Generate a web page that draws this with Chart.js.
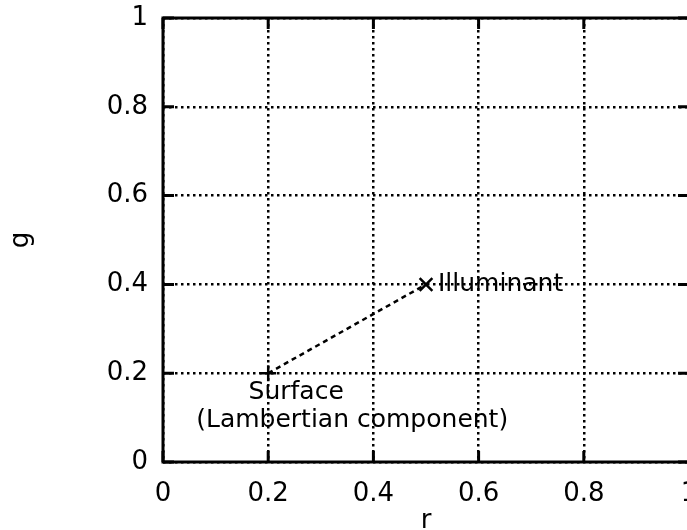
<!DOCTYPE html>
<html>
<head>
<meta charset="utf-8">
<script src="https://cdn.jsdelivr.net/npm/chart.js@4"></script>
<style>
  html, body { margin: 0; padding: 0; background: #fff; overflow: hidden; }
  #wrap { width: 740px; height: 530px; }
</style>
</head>
<body>
<div id="wrap"><canvas id="chart" width="740" height="530"></canvas></div>
<script>
// chart values
const rValues = [0.2, 0.5];
const gValues = [0.2, 0.4];
const markers = ['cross', 'crossRot'];
const tickValues = [0, 0.2, 0.4, 0.6, 0.8, 1];
const noteTexts = ['Illuminant', 'Surface', '(Lambertian component)'];
const noteR = [0.5, 0.2, 0.2];
const noteG = [0.4, 0.2, 0.2];

const FONT = 'DejaVu Sans';
const points = rValues.map((r, i) => ({ x: r, y: gValues[i] }));

// frame + inner ticks + notes
const framePlugin = {
  id: 'frame',
  afterDatasetsDraw(chart) {
    const { ctx, chartArea: a, scales } = chart;
    ctx.save();
    ctx.strokeStyle = '#000';
    ctx.lineWidth = 3;
    ctx.strokeRect(a.left, a.top, a.right - a.left, a.bottom - a.top);
    ctx.beginPath();
    tickValues.forEach(v => {
      const x = scales.x.getPixelForValue(v);
      ctx.moveTo(x, a.bottom); ctx.lineTo(x, a.bottom - 11);
      ctx.moveTo(x, a.top); ctx.lineTo(x, a.top + 11);
      const y = scales.y.getPixelForValue(v);
      ctx.moveTo(a.left, y); ctx.lineTo(a.left + 11, y);
      ctx.moveTo(a.right, y); ctx.lineTo(a.right - 11, y);
    });
    ctx.stroke();

    ctx.fillStyle = '#000';
    ctx.font = '25px "' + FONT + '"';
    ctx.textBaseline = 'middle';
    const offs = [[12, 0, 'left'], [28, 19, 'center'], [84, 47, 'center']];
    noteTexts.forEach((t, i) => {
      const x = scales.x.getPixelForValue(noteR[i]);
      const y = scales.y.getPixelForValue(noteG[i]);
      ctx.textAlign = offs[i][2];
      ctx.fillText(t, x + offs[i][0], y + offs[i][1]);
    });
    ctx.restore();
  }
};

const gridOpts = { color: '#000', lineWidth: 2.5, drawTicks: false };

new Chart(document.getElementById('chart'), {
  type: 'scatter',
  data: {
    datasets: [{
      data: points,
      showLine: true,
      borderColor: '#000',
      borderWidth: 2.5,
      borderDash: [5, 4],
      pointStyle: markers,
      pointRadius: [8, 9],
      pointBorderColor: '#000',
      pointBorderWidth: 2.5,
      pointBackgroundColor: '#000'
    }]
  },
  options: {
    responsive: false,
    animation: false,
    devicePixelRatio: 1,
    layout: { padding: { top: 18, right: 51, left: 0, bottom: 0 } },
    plugins: { legend: { display: false }, tooltip: { enabled: false } },
    scales: {
      x: {
        type: 'linear',
        min: 0, max: 1,
        afterBuildTicks: s => { s.ticks = tickValues.map(v => ({ value: v })); },
        afterFit: s => { s.height = 68; s.paddingLeft = 0; s.paddingRight = 0; },
        grid: Object.assign({}, gridOpts),
        border: { display: false, dash: [2.5, 3.5] },
        ticks: {
          color: '#000',
          padding: 17,
          maxRotation: 0,
          font: { family: FONT, size: 26 },
          callback: v => String(v)
        },
        title: {
          display: true, text: 'r', color: '#000',
          font: { family: FONT, size: 26, lineHeight: 1 },
          padding: { top: 0, bottom: -4 }
        }
      },
      y: {
        type: 'linear',
        min: 0, max: 1,
        afterBuildTicks: s => { s.ticks = tickValues.map(v => ({ value: v })); },
        afterFit: s => { s.width = 163; s.paddingTop = 0; s.paddingBottom = 0; },
        grid: Object.assign({}, gridOpts),
        border: { display: false, dash: [2.5, 3.5] },
        ticks: {
          color: '#000',
          padding: 15,
          font: { family: FONT, size: 26 },
          callback: v => String(v)
        },
        title: {
          display: true, text: 'g', color: '#000',
          font: { family: FONT, size: 26, lineHeight: 1 },
          padding: { top: 8, bottom: 0 }
        }
      }
    }
  },
  plugins: [framePlugin]
});
</script>
</body>
</html>
